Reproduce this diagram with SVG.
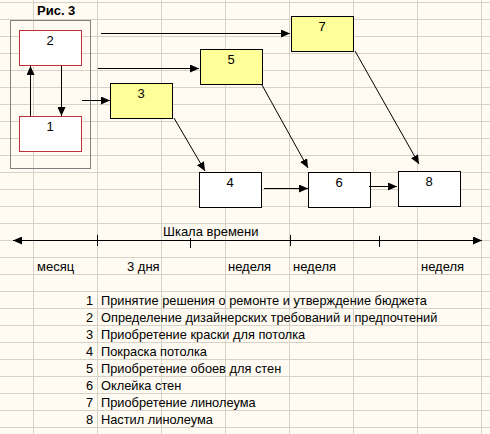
<svg xmlns="http://www.w3.org/2000/svg" width="490" height="434" viewBox="0 0 490 434">
<style>
.grid{stroke:#d6d2c8;stroke-width:1;fill:none}
.t{font-family:"Liberation Sans",Arial,sans-serif;font-size:13px;fill:#000}
.lg{font-family:"Liberation Sans",Arial,sans-serif;font-size:12.8px;fill:#000}
.num{font-family:"Liberation Sans",Arial,sans-serif;font-size:13px;fill:#000;text-anchor:middle}
.red{fill:#fff;stroke:#c0303a;stroke-width:1}
.yel{fill:#ffff99;stroke:#000;stroke-width:1}
.wht{fill:#fff;stroke:#000;stroke-width:1}
.c{stroke:#000;stroke-width:1;fill:none}
</style>
<defs>
<marker id="ah" markerWidth="9" markerHeight="8" refX="9" refY="4" orient="auto" markerUnits="userSpaceOnUse">
<path d="M0,0 L9,4 L0,8 Z" fill="#000"/>
</marker>
<marker id="as" markerWidth="9" markerHeight="8" refX="0" refY="4" orient="auto" markerUnits="userSpaceOnUse">
<path d="M9,0 L0,4 L9,8 Z" fill="#000"/>
</marker>
</defs>
<rect width="490" height="434" fill="#fffbf2"/>
<g id="grid" class="grid">
<path d="M33.5,0V434M97.5,0V434M161.5,0V434M225.5,0V434M289.5,0V434M353.5,0V434M417.5,0V434M481.5,0V434"/>
<path d="M0,2.5H490M0,19.5H490M0,36.5H490M0,53.5H490M0,70.5H490M0,87.5H490M0,104.5H490M0,121.5H490M0,138.5H490M0,155.5H490M0,172.5H490M0,189.5H490M0,206.5H490M0,223.5H490M0,240.5H490M0,257.5H490M0,274.5H490M0,291.5H490M0,308.5H490M0,325.5H490M0,342.5H490M0,359.5H490M0,376.5H490M0,393.5H490M0,410.5H490M0,427.5H490"/>
</g>
<text x="37" y="15" class="t" style="font-weight:bold">Рис. 3</text>
<rect id="frame" x="10.5" y="20.5" width="80" height="148" fill="none" stroke="#808080"/>
<g id="n2"><rect class="red" x="19.5" y="30.5" width="62" height="35"/><text class="num" x="50" y="45">2</text></g>
<g id="n1"><rect class="red" x="19.5" y="116.5" width="62" height="35"/><text class="num" x="50" y="131">1</text></g>
<g id="n3"><rect class="yel" x="110.5" y="83.5" width="62" height="35"/><text class="num" x="141" y="98">3</text></g>
<g id="n5"><rect class="yel" x="200.5" y="49.5" width="62" height="35"/><text class="num" x="231" y="64">5</text></g>
<g id="n7"><rect class="yel" x="291.5" y="16.5" width="62" height="35"/><text class="num" x="322" y="31">7</text></g>
<g id="n4"><rect class="wht" x="199.5" y="172.5" width="62" height="35"/><text class="num" x="230" y="187">4</text></g>
<g id="n6"><rect class="wht" x="308.5" y="172.5" width="62" height="35"/><text class="num" x="339" y="187">6</text></g>
<g id="n8"><rect class="wht" x="398.5" y="171.5" width="62" height="35"/><text class="num" x="429" y="186">8</text></g>
<g id="connectors" class="c">
<path d="M30.5,116V66" marker-end="url(#ah)"/>
<path d="M61.5,66V116" marker-end="url(#ah)"/>
<path d="M82,100.5H110" marker-end="url(#ah)"/>
<path d="M98,68.5H199" marker-end="url(#ah)"/>
<path d="M101,33.5H290" marker-end="url(#ah)"/>
<path d="M174,118L205,171" marker-end="url(#ah)"/>
<path d="M262,85L308,168" marker-end="url(#ah)"/>
<path d="M355,51L419,164" marker-end="url(#ah)"/>
<path d="M264,188.5H308" marker-end="url(#ah)"/>
<path d="M369,186.5H397" marker-end="url(#ah)"/>
</g>
<g id="timeline">
<path class="c" d="M13,240.5H482" marker-start="url(#as)" marker-end="url(#ah)"/>
<path class="c" d="M97.5,235V246M190.5,238V248M290.5,235V246M379.5,236V247"/>
<text class="t" x="163" y="236">Шкала времени</text>
<text class="t" x="37" y="271">месяц</text>
<text class="t" x="127" y="271">3 дня</text>
<text class="t" x="228" y="271">неделя</text>
<text class="t" x="293" y="271">неделя</text>
<text class="t" x="421" y="271">неделя</text>
</g>
<g id="legend" class="lg">
<text x="93" y="305" text-anchor="end">1</text><text x="101" y="305">Принятие решения о ремонте и утверждение бюджета</text>
<text x="93" y="322" text-anchor="end">2</text><text x="101" y="322">Определение дизайнерских требований и предпочтений</text>
<text x="93" y="339" text-anchor="end">3</text><text x="101" y="339">Приобретение краски для потолка</text>
<text x="93" y="356" text-anchor="end">4</text><text x="101" y="356">Покраска потолка</text>
<text x="93" y="373" text-anchor="end">5</text><text x="101" y="373">Приобретение обоев для стен</text>
<text x="93" y="390" text-anchor="end">6</text><text x="101" y="390">Оклейка стен</text>
<text x="93" y="407" text-anchor="end">7</text><text x="101" y="407">Приобретение линолеума</text>
<text x="93" y="424" text-anchor="end">8</text><text x="101" y="424">Настил линолеума</text>
</g>
</svg>
